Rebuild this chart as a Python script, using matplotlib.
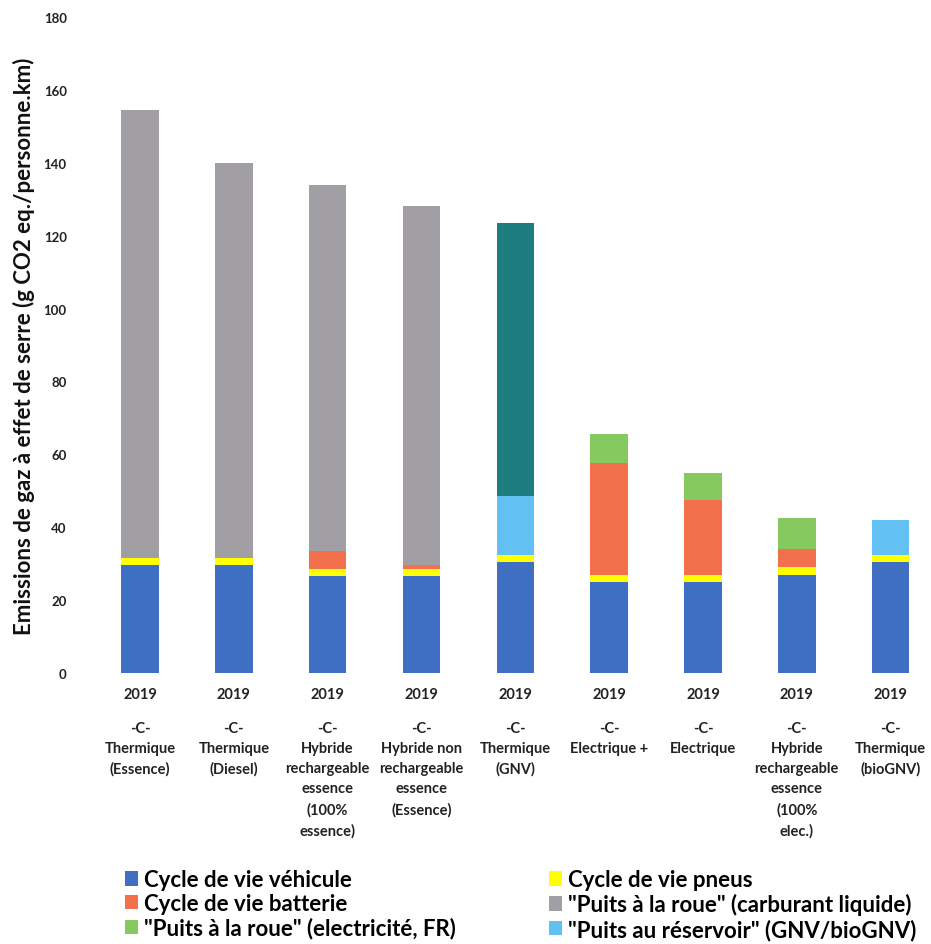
import matplotlib
matplotlib.use("Agg")
import matplotlib.pyplot as plt
import numpy as np

plt.rcParams['font.family'] = ['Lato', 'DejaVu Sans']
plt.rcParams['font.weight'] = 'bold'

# categories (x axis) -- year line, then vehicle description
years = ['2019'] * 9
vehicles = [
    '-C-\nThermique\n(Essence)',
    '-C-\nThermique\n(Diesel)',
    '-C-\nHybride\nrechargeable\nessence\n(100%\nessence)',
    '-C-\nHybride non\nrechargeable\nessence\n(Essence)',
    '-C-\nThermique\n(GNV)',
    '-C-\nElectrique +',
    '-C-\nElectrique',
    '-C-\nHybride\nrechargeable\nessence\n(100%\nelec.)',
    '-C-\nThermique\n(bioGNV)',
]

# stacked components, g CO2 eq./personne.km
vehicule = [29.5, 29.5, 26.5, 26.5, 30.5, 25.0, 25.0, 27.0, 30.5]
pneus = [2.0, 2.0, 2.0, 2.0, 2.0, 2.0, 2.0, 2.0, 2.0]
batterie = [0, 0, 5.0, 1.0, 0, 30.5, 20.5, 5.0, 0]
elec_fr = [0, 0, 0, 0, 0, 8.0, 7.5, 8.5, 0]
carburant = [123.0, 108.5, 100.5, 98.5, 0, 0, 0, 0, 0]
reservoir = [0, 0, 0, 0, 16.0, 0, 0, 0, 9.5]
gnv_roue = [0, 0, 0, 0, 75.0, 0, 0, 0, 0]

series = [
    (vehicule, '#3F6FC2', 'Cycle de vie véhicule'),
    (pneus, '#FFFF00', 'Cycle de vie pneus'),
    (batterie, '#F2704B', 'Cycle de vie batterie'),
    (carburant, '#A29FA4', '"Puits à la roue" (carburant liquide)'),
    (elec_fr, '#86C95F', '"Puits à la roue" (electricité, FR)'),
    (reservoir, '#63C0F2', '"Puits au réservoir" (GNV/bioGNV)'),
    (gnv_roue, '#1E7D80', None),
]

fig = plt.figure(figsize=(9.31, 9.45), dpi=100)
ax = fig.add_axes([0.1, 0.2868, 0.902, 0.6942])

x = np.arange(len(vehicles))
bottom = np.zeros(len(vehicles))
handles = {}
for vals, color, label in series:
    vals = np.array(vals, dtype=float)
    bars = ax.bar(x, vals, width=0.4, bottom=bottom, color=color,
                  edgecolor='none', label=label)
    if label:
        handles[label] = bars
    bottom += vals

ax.set_ylim(0, 180)
ax.set_xlim(-0.5, 8.45)
ax.set_yticks(range(0, 181, 20))

# year on the ticks, vehicle description as a text block under it
ax.set_xticks(x)
ax.set_xticklabels(years, fontsize=10.5)
for xi, v in zip(x, vehicles):
    ax.text(xi, -0.073, v, transform=ax.get_xaxis_transform(),
            ha='center', va='top', fontsize=10.5, linespacing=1.56,
            color='#222222')
ax.tick_params(axis='both', length=0, colors='#222222')
ax.tick_params(axis='x', pad=10)
ax.tick_params(axis='y', pad=19, labelsize=9.5)
for s in ax.spines.values():
    s.set_visible(False)
ax.set_ylabel('Emissions de gaz à effet de serre (g CO2 eq./personne.km)',
              fontsize=16, fontweight='bold', color='#111111')
ax.yaxis.set_label_coords(-0.069, 0.5)

order = ['Cycle de vie véhicule', 'Cycle de vie batterie',
         '"Puits à la roue" (electricité, FR)', 'Cycle de vie pneus',
         '"Puits à la roue" (carburant liquide)',
         '"Puits au réservoir" (GNV/bioGNV)']
fig.legend([handles[k] for k in order], order, ncol=2,
           loc='upper left', bbox_to_anchor=(0.134, 0.079),
           bbox_transform=fig.transFigure, frameon=False, borderpad=0,
           fontsize=16, handlelength=0.6, handleheight=0.6,
           handletextpad=0.25, labelspacing=0.13, columnspacing=4.2,
           borderaxespad=0)

fig.savefig('out.png', dpi=100, facecolor='white')
